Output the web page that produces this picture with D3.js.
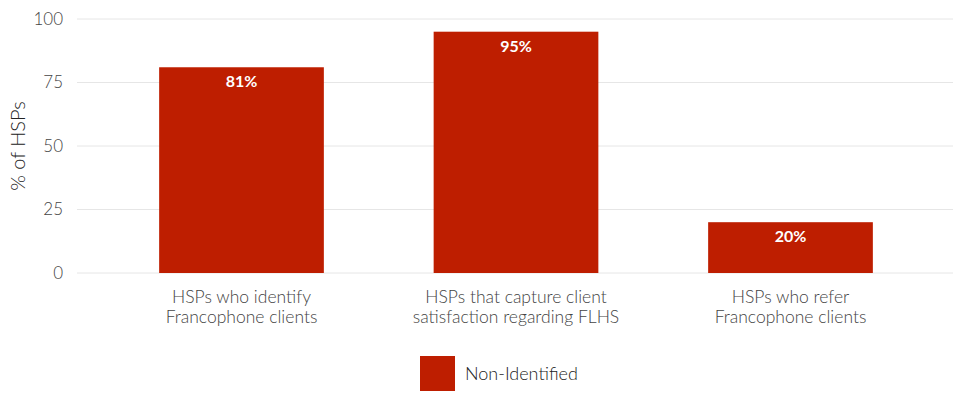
<!DOCTYPE html>
<html>
<head>
<meta charset="utf-8">
<script src="https://cdn.jsdelivr.net/npm/d3@7"></script>
<style>
  html, body { margin: 0; padding: 0; background: #fff; }
  svg { display: block; font-family: Lato, "Open Sans", sans-serif; }
</style>
</head>
<body>
<svg id="chart" width="953" height="410"></svg>
<script>
const categories = [
  ["HSPs who identify", "Francophone clients"],
  ["HSPs that capture client", "satisfaction regarding FLHS"],
  ["HSPs who refer", "Francophone clients"]
];
const values = [81, 95, 20];
const valueLabels = ["81%", "95%", "20%"];
const yTicks = [0, 25, 50, 75, 100];
const seriesName = "Non-Identified";
const barColor = "#BE1E00";

(function () {
const svg = d3.select("#chart");
const gridLeft = 77, gridRight = 953;
const plotTop = 19, plotBottom = 273;

const x = d3.scaleBand().domain(d3.range(categories.length)).range([104.25, 927.75]).paddingInner(0.4).paddingOuter(0.2);
const y = d3.scaleLinear().domain([0, 100]).range([plotBottom, plotTop]);

// gridlines
svg.append("g").selectAll("line").data(yTicks).join("line")
  .attr("x1", gridLeft).attr("x2", gridRight)
  .attr("y1", d => y(d)).attr("y2", d => y(d))
  .attr("stroke", "#e6e6e6").attr("stroke-width", 1);

// y axis labels
const yAxis = d3.axisLeft(y).tickValues(yTicks).tickSize(0).tickPadding(0);
const ya = svg.append("g").attr("transform", "translate(63,0)").call(yAxis);
ya.select(".domain").remove();
ya.selectAll("text").attr("font-size", 17).attr("font-weight", 300).attr("fill", "#444").attr("font-family", "Lato, sans-serif");

// y title
svg.append("text")
  .attr("transform", `translate(25,${(plotTop + plotBottom) / 2}) rotate(-90)`)
  .attr("text-anchor", "middle")
  .attr("font-size", 20).attr("font-weight", 300).attr("fill", "#222")
  .text("% of HSPs");

// bars
svg.append("g").selectAll("rect").data(values).join("rect")
  .attr("x", (d, i) => x(i)).attr("width", x.bandwidth())
  .attr("y", d => y(d)).attr("height", d => y(0) - y(d))
  .attr("fill", barColor);

// value labels
svg.append("g").selectAll("text").data(values).join("text")
  .attr("x", (d, i) => x(i) + x.bandwidth() / 2)
  .attr("y", d => y(d) + 20)
  .attr("text-anchor", "middle")
  .attr("font-size", 16).attr("font-weight", "bold").attr("fill", "#fff")
  .text((d, i) => valueLabels[i]);

// category labels
const cat = svg.append("g").selectAll("text").data(categories).join("text")
  .attr("x", (d, i) => x(i) + x.bandwidth() / 2)
  .attr("y", 303)
  .attr("text-anchor", "middle")
  .attr("font-size", 17.5).attr("font-weight", 300).attr("fill", "#444");
cat.each(function (d, i) {
  const t = d3.select(this);
  const cx = x(i) + x.bandwidth() / 2;
  d.forEach((line, j) => {
    t.append("tspan").attr("x", cx).attr("dy", j === 0 ? 0 : 20).text(line);
  });
});

// legend
const lg = svg.append("g");
lg.append("rect").attr("x", 420).attr("y", 356).attr("width", 35).attr("height", 35).attr("fill", barColor);
lg.append("text").attr("x", 465).attr("y", 380).attr("font-size", 18).attr("font-weight", 300).attr("fill", "#222").text(seriesName);
})();
</script>
</body>
</html>
